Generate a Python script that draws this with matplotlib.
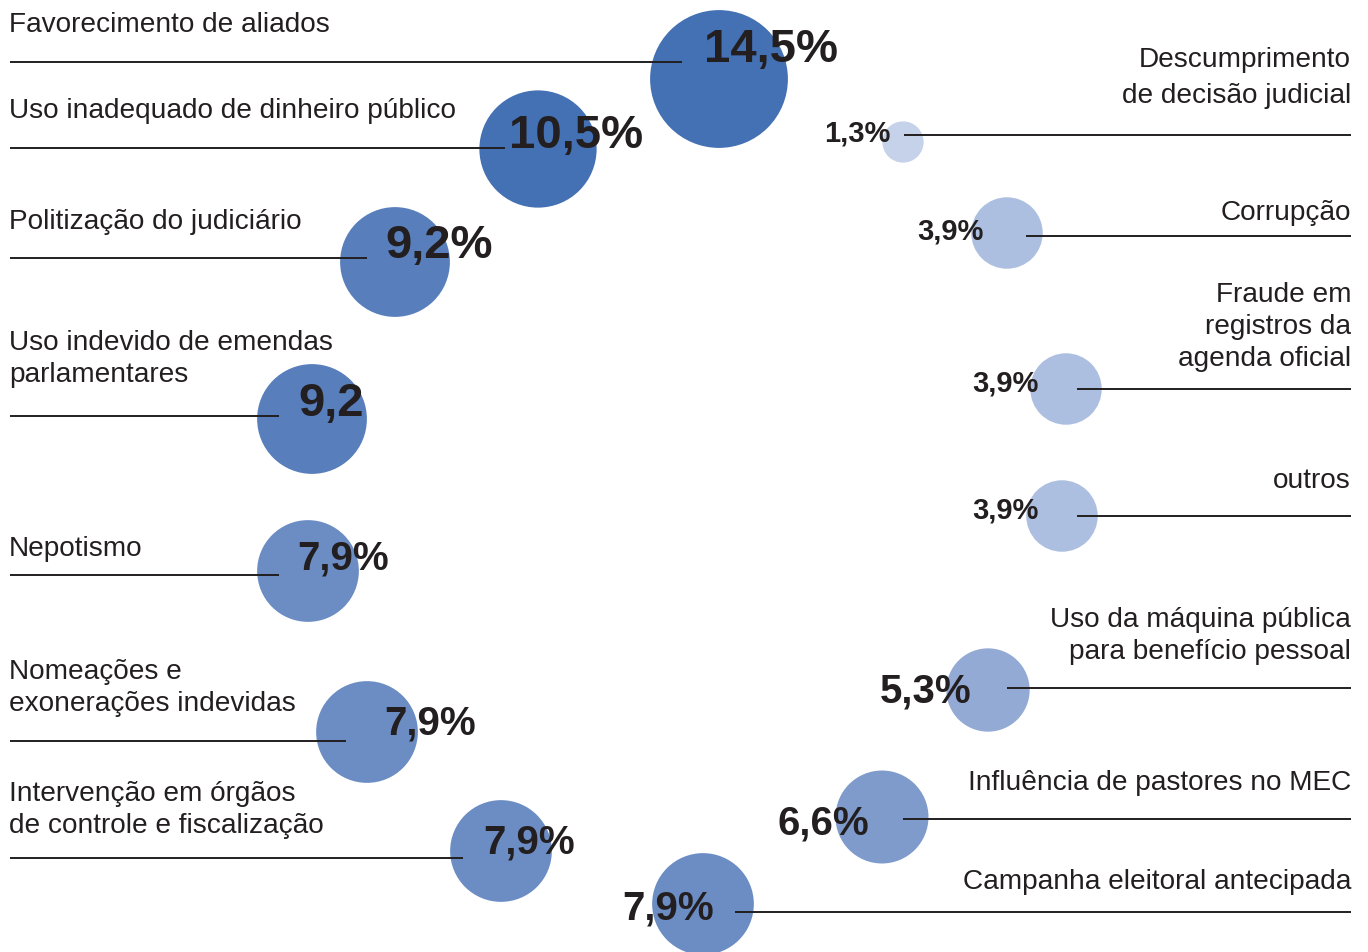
import numpy as np
import matplotlib
matplotlib.use("Agg")
import matplotlib.pyplot as plt
from matplotlib.colors import LinearSegmentedColormap, Normalize

# dados
categorias = [
    "Favorecimento de aliados",
    "Uso inadequado de dinheiro público",
    "Politização do judiciário",
    "Uso indevido de emendas\nparlamentares",
    "Nepotismo",
    "Nomeações e\nexonerações indevidas",
    "Intervenção em órgãos\nde controle e fiscalização",
    "Descumprimento\nde decisão judicial",
    "Corrupção",
    "Fraude em\nregistros da\nagenda oficial",
    "outros",
    "Uso da máquina pública\npara benefício pessoal",
    "Influência de pastores no MEC",
    "Campanha eleitoral antecipada",
]
valores = [14.5, 10.5, 9.2, 9.2, 7.9, 7.9, 7.9, 1.3, 3.9, 3.9, 3.9, 5.3, 6.6, 7.9]
rotulos = ["14,5%", "10,5%", "9,2%", "9,2", "7,9%", "7,9%", "7,9%",
           "1,3%", "3,9%", "3,9%", "3,9%", "5,3%", "6,6%", "7,9%"]

# layout (pixels, y down)
lado = ["L"] * 7 + ["R"] * 7
centros = [(719, 80), (538, 150), (395, 263), (312, 420), (308, 572), (367, 733), (501, 852),
           (903, 143), (1007, 234), (1066, 390), (1062, 517), (988, 691), (882, 818), (703, 905)]
linhas = [(63, 682), (149, 505), (259, 367), (417, 279), (576, 279), (742, 346), (859, 463),
          (136, 904), (237, 1026), (390, 1077), (517, 1077), (689, 1007), (820, 903), (913, 735)]
texto_y = [32, 118, 229, 350, 556, 679, 801,
           67, 220, 302, 488, 627, 790, 889]
espaco = [32] * 7 + [36] + [32] * 6
rotulo_pos = [(771, 62), (576, 148), (439, 258), (331, 416), (343, 570), (430, 735), (529, 854),
              (857, 142), (950, 239), (1005, 392), (1005, 519), (926, 703), (823, 835), (668, 920)]

W, H = 1368, 953
ESCURO = "#231f20"
cmap = LinearSegmentedColormap.from_list(
    "azuis", [(0.0, "#c6d2ea"), (0.283, "#adbfe0"), (0.435, "#93aad4"), (1.0, "#4470b4")])
norm = Normalize(vmin=1.3, vmax=10.5, clip=True)

fig = plt.figure(figsize=(W / 100, H / 100), dpi=100)
ax = fig.add_axes([0, 0, 1, 1])
ax.set_xlim(0, W)
ax.set_ylim(H, 0)
ax.axis("off")

vals = np.array(valores)
xs = [c[0] for c in centros]
ys = [c[1] for c in centros]
# area proportional to value
ax.scatter(xs, ys, s=679 * vals, c=cmap(norm(vals)), linewidths=0, zorder=1, clip_on=False)

for i, cat in enumerate(categorias):
    ly, lx = linhas[i]
    if lado[i] == "L":
        ax.plot([10, lx], [ly, ly], color=ESCURO, lw=1.4, zorder=2, solid_capstyle="butt")
        tx, ha = 9, "left"
    else:
        ax.plot([lx, 1351], [ly, ly], color=ESCURO, lw=1.4, zorder=2, solid_capstyle="butt")
        tx, ha = 1351, "right"
    for j, parte in enumerate(cat.split("\n")):
        ax.text(tx, texto_y[i] + j * espaco[i], parte, ha=ha, va="baseline",
                fontsize=20.2, family="Liberation Sans", color=ESCURO)

    v = valores[i]
    fs = 34 if v > 9 else (29 if v > 5 else 21)
    rx, ry = rotulo_pos[i]
    ax.text(rx, ry, rotulos[i], ha="center", va="baseline", fontsize=fs,
            family="Liberation Sans", fontweight="bold", color=ESCURO, zorder=3)

fig.savefig("out.png", dpi=100)
